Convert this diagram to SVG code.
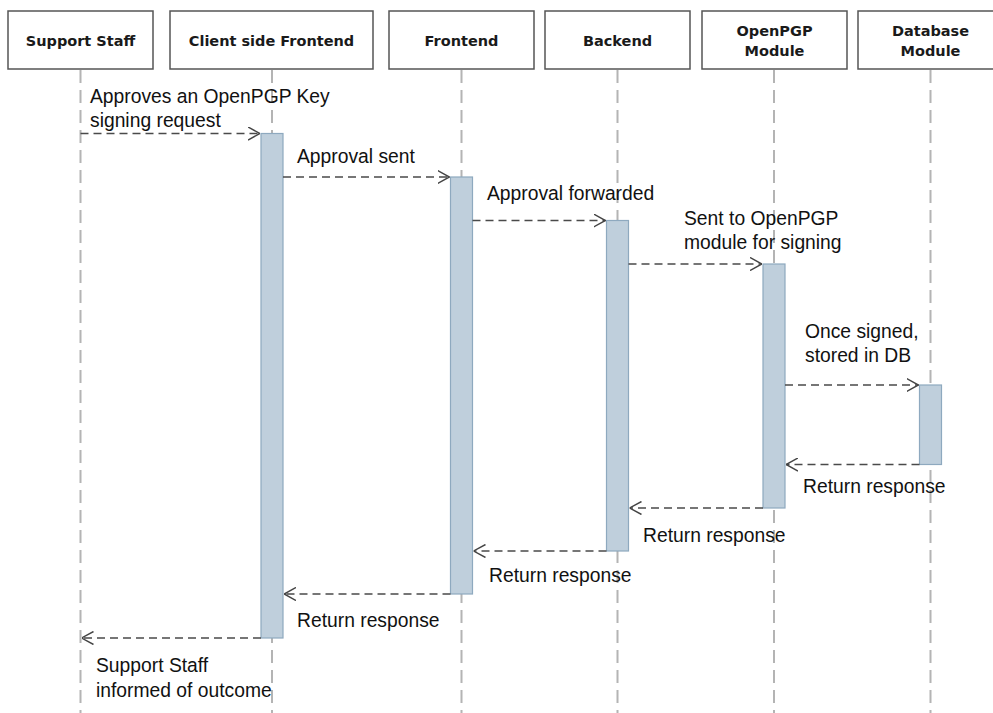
<svg xmlns="http://www.w3.org/2000/svg" width="993" height="713" viewBox="0 0 993 713">
  <defs>
    <marker id="open" viewBox="0 0 12 14" refX="12" refY="7" markerWidth="12" markerHeight="14" markerUnits="userSpaceOnUse" orient="auto">
      <path d="M0,0.5 L12,7 L0,13.5" fill="none" stroke="#444" stroke-width="1.5"/>
    </marker>
  </defs>
  <style>
    .head rect { fill: #fff; stroke: #555; stroke-width: 1.5; }
    .head text { font-family: "DejaVu Sans", Tahoma, sans-serif; font-weight: bold; font-size: 14.5px; fill: #1a1a1a; text-anchor: middle; }
    .life { stroke: #b4b4b4; stroke-width: 2; stroke-dasharray: 13 7; fill: none; }
    .act { fill: #bfcfdc; stroke: #8ea9bf; stroke-width: 1.2; }
    .msg { stroke: #4a4a4a; stroke-width: 1.5; stroke-dasharray: 8 5; fill: none; marker-end: url(#open); }
    .lbl { font-family: "Liberation Sans", Arial, sans-serif; font-size: 19.3px; fill: #111; }
  </style>
  <rect width="993" height="713" fill="#fff"/>

  <!-- lifelines -->
  <g id="lifelines">
    <line class="life" x1="80.5" y1="70" x2="80.5" y2="713"/>
    <line class="life" x1="272" y1="70" x2="272" y2="713"/>
    <line class="life" x1="461.5" y1="70" x2="461.5" y2="713"/>
    <line class="life" x1="617.5" y1="70" x2="617.5" y2="713"/>
    <line class="life" x1="774" y1="70" x2="774" y2="713"/>
    <line class="life" x1="930.5" y1="70" x2="930.5" y2="713"/>
  </g>

  <!-- participants -->
  <g id="support-staff" class="head">
    <rect x="8" y="11" width="145" height="58"/>
    <text x="80.5" y="45.5">Support Staff</text>
  </g>
  <g id="client-frontend" class="head">
    <rect x="170" y="11" width="203" height="58"/>
    <text x="271.5" y="45.5">Client side Frontend</text>
  </g>
  <g id="frontend" class="head">
    <rect x="389" y="11" width="145" height="58"/>
    <text x="461.5" y="45.5">Frontend</text>
  </g>
  <g id="backend" class="head">
    <rect x="545" y="11" width="145" height="58"/>
    <text x="617.5" y="45.5">Backend</text>
  </g>
  <g id="openpgp-module" class="head">
    <rect x="702" y="11" width="145" height="58"/>
    <text x="774.5" y="36">OpenPGP</text>
    <text x="774.5" y="56">Module</text>
  </g>
  <g id="database-module" class="head">
    <rect x="858" y="11" width="145" height="58"/>
    <text x="930.5" y="36">Database</text>
    <text x="930.5" y="56">Module</text>
  </g>

  <!-- activation bars -->
  <g id="activations">
    <rect class="act" x="261" y="133.5" width="22" height="504.5"/>
    <rect class="act" x="450.5" y="177" width="22" height="417"/>
    <rect class="act" x="606.5" y="220.5" width="22" height="330.5"/>
    <rect class="act" x="763" y="264" width="22" height="244"/>
    <rect class="act" x="919.5" y="385" width="22" height="79.5"/>
  </g>

  <!-- messages -->
  <g id="connectors">
    <line class="msg" x1="80.5" y1="133.5" x2="260" y2="133.5"/>
    <line class="msg" x1="283" y1="177" x2="449.5" y2="177"/>
    <line class="msg" x1="472.5" y1="220.5" x2="605.5" y2="220.5"/>
    <line class="msg" x1="628.5" y1="264" x2="762" y2="264"/>
    <line class="msg" x1="785" y1="385" x2="918.5" y2="385"/>
    <line class="msg" x1="919.5" y1="464.5" x2="786" y2="464.5"/>
    <line class="msg" x1="763" y1="508" x2="629.5" y2="508"/>
    <line class="msg" x1="606.5" y1="551" x2="473.5" y2="551"/>
    <line class="msg" x1="450.5" y1="594" x2="284" y2="594"/>
    <line class="msg" x1="261" y1="638" x2="81.5" y2="638"/>
  </g>

  <!-- message labels -->
  <g id="labels">
    <text class="lbl" x="90" y="103">Approves an OpenPGP Key</text>
    <text class="lbl" x="90" y="127">signing request</text>
    <text class="lbl" x="297" y="163">Approval sent</text>
    <text class="lbl" x="487" y="200">Approval forwarded</text>
    <text class="lbl" x="684" y="225">Sent to OpenPGP</text>
    <text class="lbl" x="684" y="249">module for signing</text>
    <text class="lbl" x="805" y="338">Once signed,</text>
    <text class="lbl" x="805" y="362">stored in DB</text>
    <text class="lbl" x="803" y="493">Return response</text>
    <text class="lbl" x="643" y="542">Return response</text>
    <text class="lbl" x="489" y="582">Return response</text>
    <text class="lbl" x="297" y="627">Return response</text>
    <text class="lbl" x="96" y="672">Support Staff</text>
    <text class="lbl" x="96" y="697">informed of outcome</text>
  </g>
</svg>
